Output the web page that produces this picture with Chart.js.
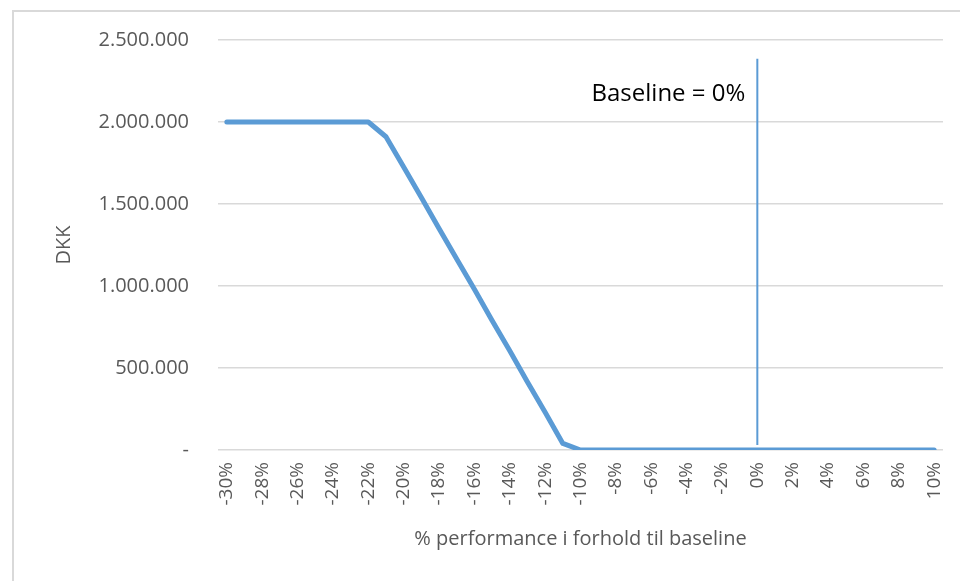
<!DOCTYPE html>
<html>
<head>
<meta charset="utf-8">
<script src="https://cdn.jsdelivr.net/npm/chart.js@4.4.0/dist/chart.umd.min.js"></script>
<style>
  html, body { margin: 0; padding: 0; background: #fff; overflow: hidden; }
  #wrap { position: relative; width: 960px; height: 581px; }
  #frame { position: absolute; left: 12px; top: 10px; width: 1000px; height: 1000px; border: 2px solid #D9D9D9; box-sizing: border-box; }
  #lineChart { position: absolute; left: 0; top: 0; }
</style>
</head>
<body>
<div id="wrap">
  <div id="frame"></div>
  <canvas id="lineChart" width="960" height="581"></canvas>
</div>
<script>
// categories: -30% .. 10% in 1% steps
const percentLabels = ['-30%','-29%','-28%','-27%','-26%','-25%','-24%','-23%','-22%','-21%',
    '-20%','-19%','-18%','-17%','-16%','-15%','-14%','-13%','-12%','-11%',
    '-10%','-9%','-8%','-7%','-6%','-5%','-4%','-3%','-2%','-1%',
    '0%','1%','2%','3%','4%','5%','6%','7%','8%','9%','10%'];

// DKK per performance step
const dkkValues = [2000000, 2000000, 2000000, 2000000, 2000000, 2000000, 2000000, 2000000, 2000000, 1910000,
    1725000, 1540000, 1350000, 1165000, 980000, 790000, 605000, 415000, 230000, 40000,
    0, 0, 0, 0, 0, 0, 0, 0, 0, 0,
    0, 0, 0, 0, 0, 0, 0, 0, 0, 0, 0];

// vertical baseline marker at 0%
const baselineLabel = '0%';
const baselineValues = [2385000, 30000];
const baselineText = 'Baseline = 0%';
const baselineTextValue = 2170000;

const yTicks = [0, 500000, 1000000, 1500000, 2000000, 2500000];

const formatDKK = (v) => v === 0 ? '-' : String(v).replace(/\B(?=(\d{3})+(?!\d))/g, '.');

const baselineTextPlugin = {
    id: 'baselineText',
    afterDatasetsDraw(chart) {
        const { ctx, scales } = chart;
        const x = scales.x.getPixelForValue(percentLabels.indexOf(baselineLabel)) - 12;
        const y = scales.y.getPixelForValue(baselineTextValue);
        ctx.save();
        ctx.font = '24px "Open Sans"';
        ctx.fillStyle = '#000000';
        ctx.textAlign = 'right';
        ctx.textBaseline = 'middle';
        ctx.fillText(baselineText, x, y);
        ctx.restore();
    }
};

const ctx = document.getElementById('lineChart').getContext('2d');
new Chart(ctx, {
    type: 'line',
    data: {
        labels: percentLabels,
        datasets: [{
            label: 'DKK',
            data: dkkValues,
            borderColor: '#5B9BD5',
            borderWidth: 5,
            borderCapStyle: 'round',
            borderJoinStyle: 'round',
            pointRadius: 0,
            tension: 0,
            fill: false
        }, {
            label: 'Baseline',
            data: baselineValues.map(v => ({ x: baselineLabel, y: v })),
            borderColor: '#5B9BD5',
            borderWidth: 2,
            pointRadius: 0,
            fill: false
        }]
    },
    options: {
        responsive: false,
        animation: false,
        devicePixelRatio: 1,
        layout: { padding: { top: 40, right: 17, left: 0, bottom: 0 } },
        plugins: {
            legend: { display: false },
            tooltip: { enabled: false }
        },
        scales: {
            x: {
                offset: true,
                grid: { display: false, drawTicks: false },
                border: { display: false },
                ticks: {
                    autoSkip: false,
                    minRotation: 90,
                    maxRotation: 90,
                    padding: 12,
                    color: '#595959',
                    font: { family: 'Open Sans', size: 19 },
                    callback: function (value, index) {
                        return index % 2 === 0 ? this.getLabelForValue(value) : '';
                    }
                },
                title: {
                    display: true,
                    text: '% performance i forhold til baseline',
                    color: '#595959',
                    font: { family: 'Open Sans', size: 20 },
                    padding: { top: 0, bottom: 30 }
                },
                afterFit: (scale) => {
                    scale.height = 131;
                    scale.paddingLeft = 0;
                    scale.paddingRight = 0;
                }
            },
            y: {
                min: 0,
                max: 2500000,
                grid: { color: '#D9D9D9', lineWidth: 1.5, drawTicks: false },
                border: { display: false },
                afterBuildTicks: (scale) => { scale.ticks = yTicks.map(v => ({ value: v })); },
                ticks: {
                    padding: 29,
                    color: '#595959',
                    font: { family: 'Open Sans', size: 20 },
                    callback: (v) => formatDKK(v)
                },
                title: {
                    display: true,
                    text: 'DKK',
                    color: '#595959',
                    font: { family: 'Open Sans', size: 20 },
                    padding: { top: 52, bottom: 0 }
                },
                afterFit: (scale) => {
                    scale.width = 218;
                    scale.paddingTop = 0;
                    scale.paddingBottom = 0;
                }
            }
        }
    },
    plugins: [baselineTextPlugin]
});
</script>
</body>
</html>
